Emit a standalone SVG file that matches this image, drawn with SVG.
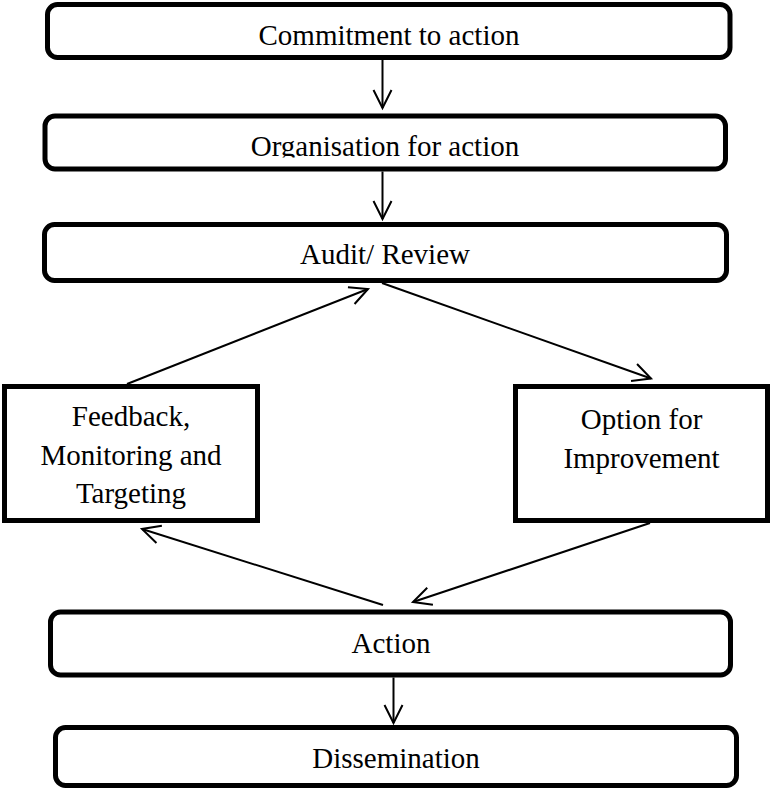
<svg xmlns="http://www.w3.org/2000/svg" width="770" height="791" viewBox="0 0 770 791">
  <style>
    .box { fill: #ffffff; stroke: #000000; stroke-width: 5; }
    .label { font-family: "Liberation Serif", "Times New Roman", serif; font-size: 29px; fill: #000000; text-anchor: middle; }
    .link { fill: none; stroke: #000000; stroke-width: 2; marker-end: url(#head); }
  </style>
  <defs>
    <marker id="head" markerUnits="userSpaceOnUse" markerWidth="24" markerHeight="24" viewBox="-20 -12 24 24" refX="0" refY="0" orient="auto">
      <path d="M-18,-9 L0,0 L-18,9" fill="none" stroke="#000000" stroke-width="2" stroke-linejoin="miter"/>
    </marker>
    <clipPath id="orgClip">
      <rect x="0" y="0" width="770" height="157.5"/>
    </clipPath>
  </defs>

  <rect width="770" height="791" fill="#ffffff"/>

  <g id="commitment">
    <rect class="box" x="47.5" y="4.5" width="682.5" height="53" rx="10"/>
    <text class="label" x="389" y="45">Commitment to action</text>
  </g>

  <g id="organisation">
    <rect class="box" x="45" y="116" width="680.5" height="53" rx="10"/>
    <text class="label" x="385" y="156" clip-path="url(#orgClip)">Organisation for action</text>
  </g>

  <g id="audit">
    <rect class="box" x="44.5" y="224.5" width="682" height="56" rx="10"/>
    <text class="label" x="385" y="264">Audit/ Review</text>
  </g>

  <g id="feedback">
    <rect class="box" x="4.5" y="386.5" width="253" height="134"/>
    <text class="label" x="131" y="426">Feedback,</text>
    <text class="label" x="131" y="464.5">Monitoring and</text>
    <text class="label" x="131" y="503">Targeting</text>
  </g>

  <g id="option">
    <rect class="box" x="515.5" y="386.5" width="252" height="134"/>
    <text class="label" x="641.5" y="429">Option for</text>
    <text class="label" x="641.5" y="467.5">Improvement</text>
  </g>

  <g id="action">
    <rect class="box" x="50.5" y="612" width="680" height="63" rx="10"/>
    <text class="label" x="391" y="653">Action</text>
  </g>

  <g id="dissemination">
    <rect class="box" x="55.5" y="727.5" width="681" height="58" rx="10"/>
    <text class="label" x="396" y="768">Dissemination</text>
  </g>

  <g id="connectors">
    <line class="link" x1="382.5" y1="60" x2="382.5" y2="108"/>
    <line class="link" x1="382.5" y1="171.5" x2="382.5" y2="219"/>
    <line class="link" x1="382" y1="283" x2="651" y2="378.5"/>
    <line class="link" x1="127" y1="384" x2="368" y2="289"/>
    <line class="link" x1="650" y1="523" x2="413" y2="602"/>
    <line class="link" x1="383" y1="605" x2="142" y2="529"/>
    <line class="link" x1="393.5" y1="677.5" x2="393.5" y2="723"/>
  </g>
</svg>
